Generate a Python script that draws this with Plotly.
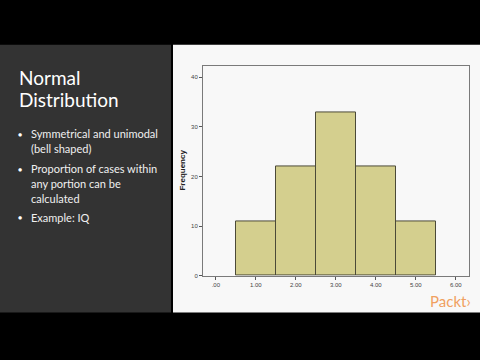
import plotly.graph_objects as go

bins = [1, 2, 3, 4, 5]
freq = [11, 22, 33, 22, 11]
xtick_vals = [0, 1, 2, 3, 4, 5, 6]
xtick_text = [".00", "1.00", "2.00", "3.00", "4.00", "5.00", "6.00"]
ytick_vals = [0, 10, 20, 30, 40]
title_lines = ["Normal", "Distribution"]
bullets = [["Symmetrical and unimodal", "(bell shaped)"],
           ["Proportion of cases within", "any portion can be", "calculated"],
           ["Example: IQ"]]

W, H = 480, 360
def px(x): return x / W
def py(y): return 1 - y / H

fig = go.Figure()
fig.add_trace(go.Bar(x=bins, y=freq, width=1,
                     marker=dict(color="#d4cf8e", line=dict(color="#4b4a38", width=1)),
                     showlegend=False, hoverinfo="skip"))

shapes = [
    dict(type="rect", xref="paper", yref="paper", x0=0, x1=1, y0=0, y1=1,
         fillcolor="#000000", line_width=0, layer="below"),
    dict(type="rect", xref="paper", yref="paper", x0=0, x1=px(171), y0=py(315), y1=py(45),
         fillcolor="#333333", line_width=0, layer="below"),
    dict(type="rect", xref="paper", yref="paper", x0=px(173), x1=1, y0=py(315), y1=py(45),
         fillcolor="#f8f8f8", line_width=0, layer="below"),
]

ann = []
font_main = "Lato, Open Sans, sans-serif"
ty = [78, 100]
for t, y in zip(title_lines, ty):
    ann.append(dict(text=t, x=px(17), y=py(y), xref="paper", yref="paper",
                    xanchor="left", yanchor="middle", showarrow=False,
                    font=dict(family=font_main, size=19, color="#ffffff")))
ys = [[135, 150], [170, 185, 200], [219]]
for lines, yl in zip(bullets, ys):
    ann.append(dict(text="\u25cf", x=px(20), y=py(yl[0]), xref="paper", yref="paper",
                    xanchor="center", yanchor="middle", showarrow=False,
                    font=dict(family=font_main, size=7, color="#ffffff")))
    for t, y in zip(lines, yl):
        ann.append(dict(text=t, x=px(29), y=py(y), xref="paper", yref="paper",
                        xanchor="left", yanchor="middle", showarrow=False,
                        font=dict(family=font_main, size=11, color="#f0f0f0")))
ann.append(dict(text="<b>Frequency</b>", x=px(183), y=py(172), xref="paper", yref="paper",
                xanchor="center", yanchor="middle", showarrow=False, textangle=-90,
                font=dict(family="Arial, Liberation Sans, sans-serif", size=8, color="#222222")))
ann.append(dict(text="Packt\u203a", x=px(450), y=py(304), xref="paper", yref="paper",
                xanchor="center", yanchor="middle", showarrow=False,
                font=dict(family="Lato, sans-serif", size=15, color="#f0a060")))

fig.update_layout(
    width=W, height=H, margin=dict(l=0, r=0, t=0, b=0),
    paper_bgcolor="#000000", plot_bgcolor="#f0f0f0",
    shapes=shapes, annotations=ann, bargap=0,
    xaxis=dict(domain=[px(203), px(469)], range=[-0.32, 6.33],
               tickvals=xtick_vals, ticktext=xtick_text, ticks="outside", ticklen=3,
               tickcolor="#555555", showgrid=False, zeroline=False,
               showline=True, linecolor="#7a7a7a", mirror=True, linewidth=1,
               tickfont=dict(family="Arial, sans-serif", size=6, color="#444444")),
    yaxis=dict(domain=[py(278), py(67)], range=[0, 42.2],
               tickvals=ytick_vals, ticks="outside", ticklen=3,
               tickcolor="#555555", showgrid=False, zeroline=False,
               showline=True, linecolor="#7a7a7a", mirror=True, linewidth=1,
               tickfont=dict(family="Arial, sans-serif", size=6, color="#444444")),
)
fig.write_html("out.html")
